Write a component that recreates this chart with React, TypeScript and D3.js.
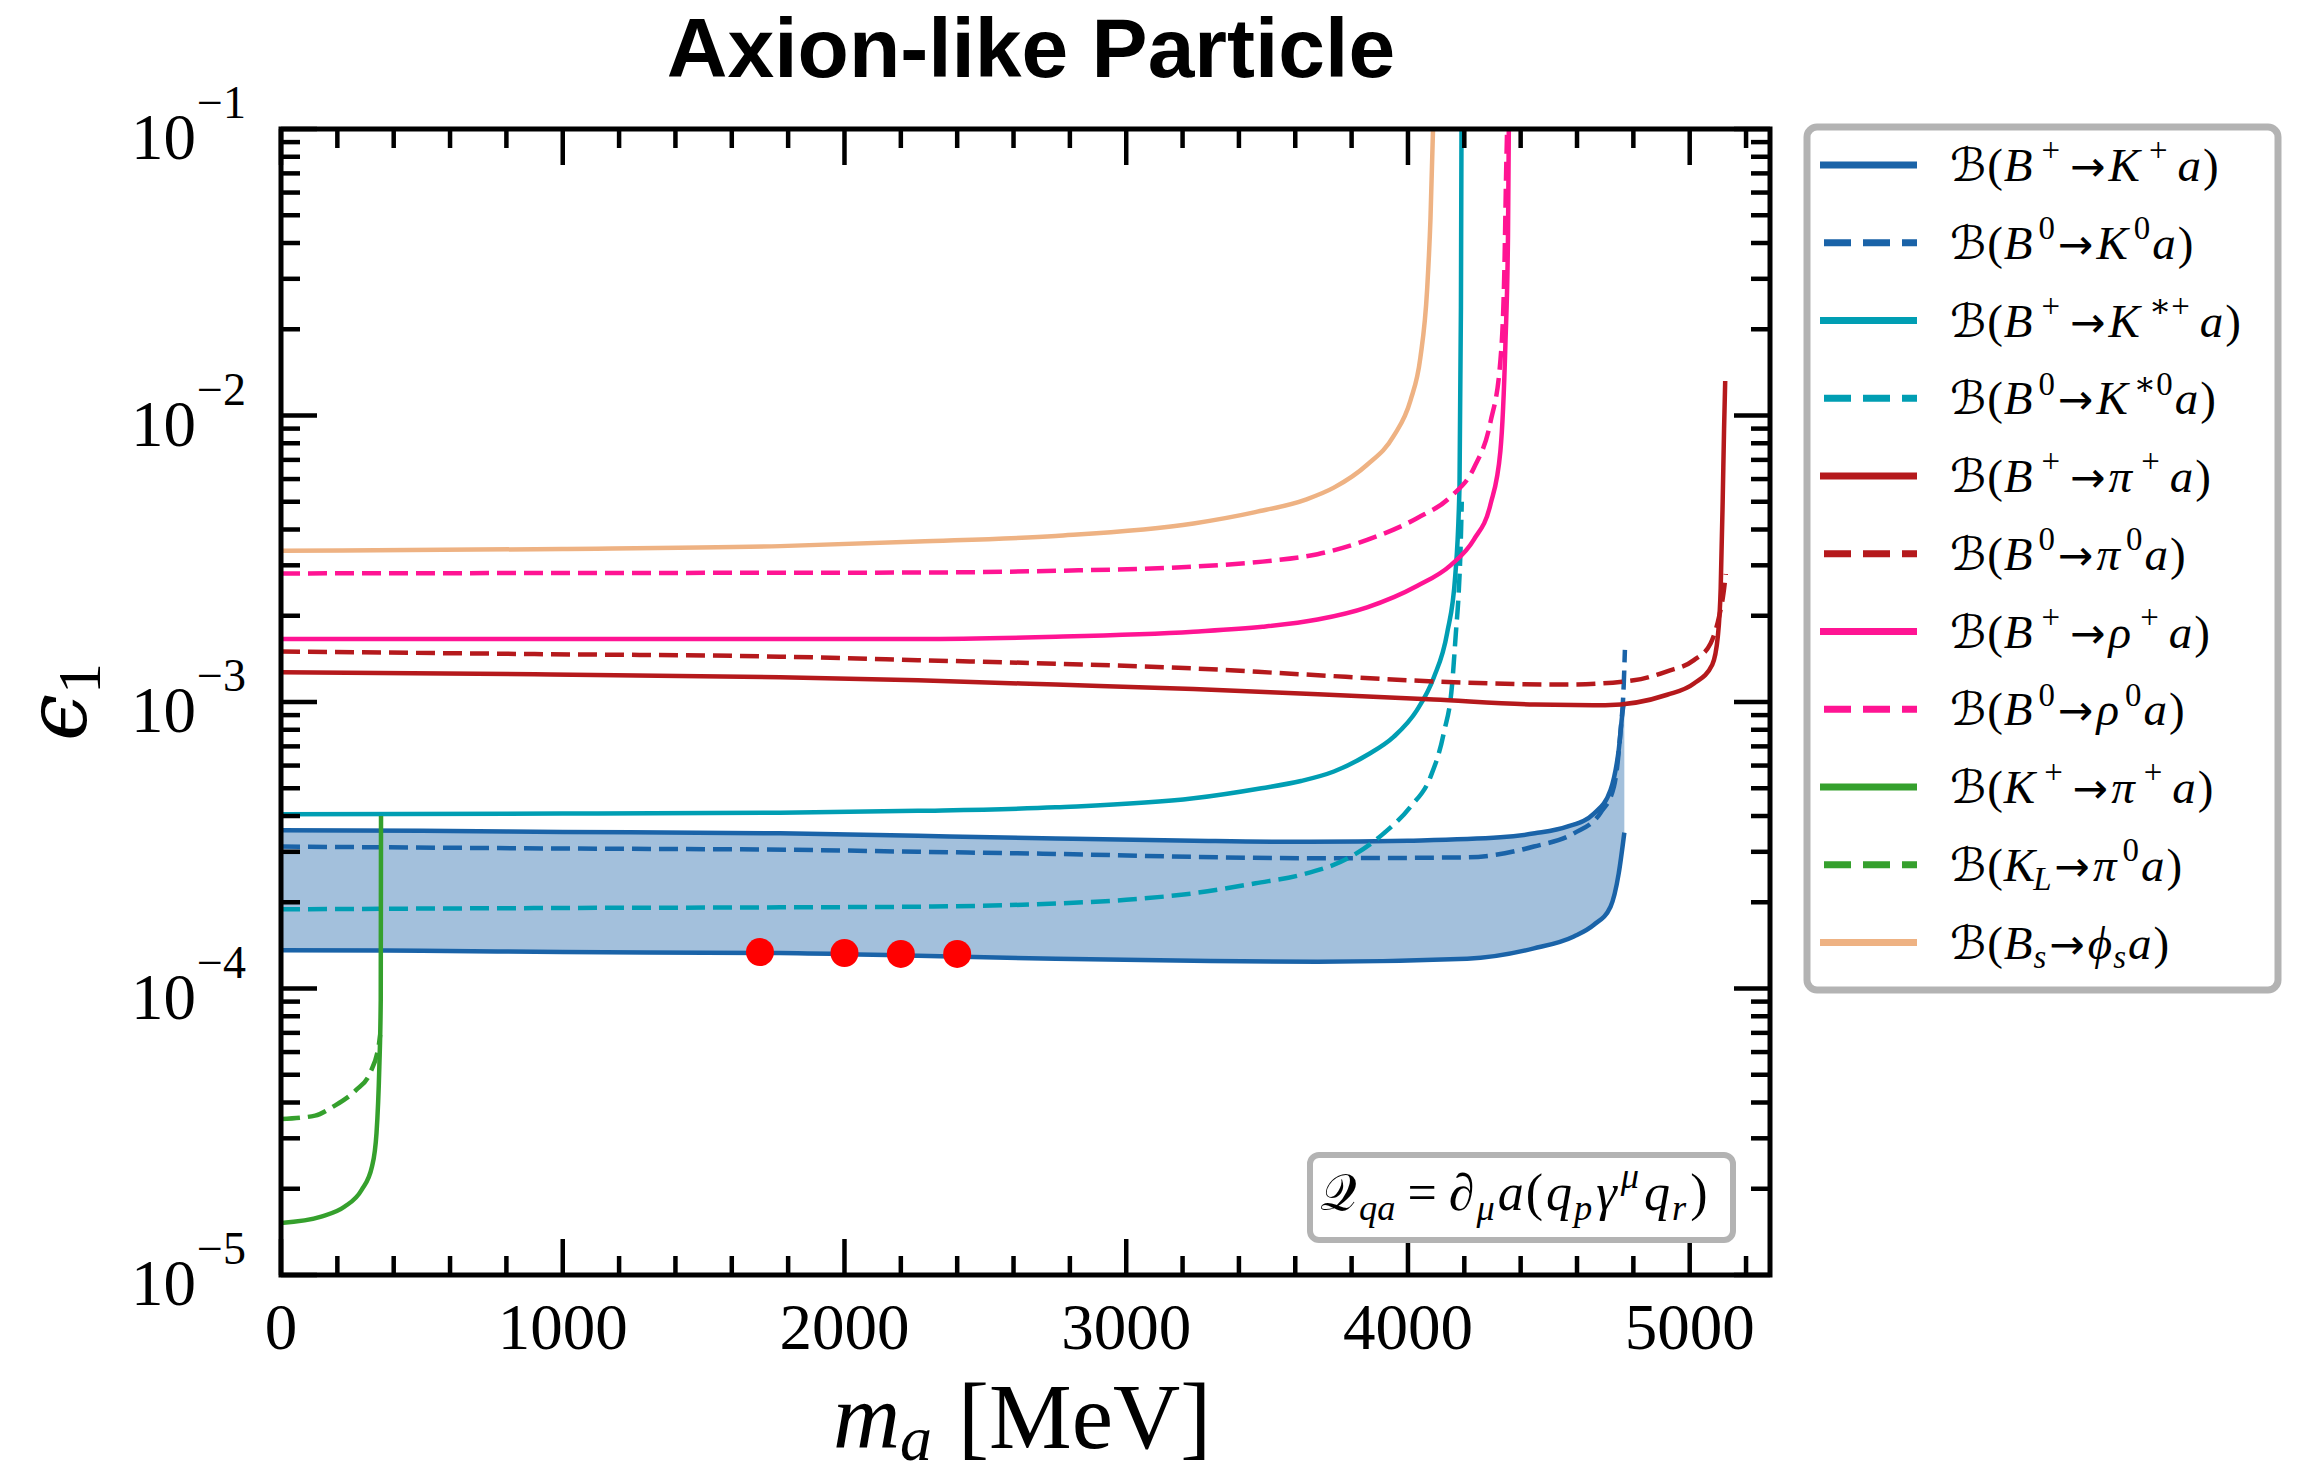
import React from 'react';
import * as d3 from 'd3';

type P = [number, number];

// ---------- data (m_a in MeV, epsilon_1) ----------
const xTicksMajor = [0, 1000, 2000, 3000, 4000, 5000];
const yExponents = [-1, -2, -3, -4, -5];

const bPlusKUpper: P[] = [
  [0, 3.57e-4], [500, 3.55e-4], [1000, 3.52e-4], [1772, 3.48e-4], [2261, 3.41e-4], [2750, 3.34e-4],
  [3239, 3.28e-4], [3650, 3.25e-4], [4000, 3.28e-4], [4328, 3.37e-4], [4450, 3.48e-4], [4565, 3.67e-4],
  [4660, 4.08e-4], [4719, 4.93e-4], [4748, 6.8e-4], [4764, 9.6e-4], [4768, 1.0e-3],
];
const bPlusKLower: P[] = [
  [0, 1.36e-4], [500, 1.355e-4], [1000, 1.34e-4], [1772, 1.33e-4], [2261, 1.30e-4], [2750, 1.27e-4],
  [3239, 1.25e-4], [3679, 1.24e-4], [4210, 1.27e-4], [4447, 1.38e-4], [4589, 1.52e-4], [4660, 1.67e-4],
  [4719, 1.93e-4], [4748, 2.52e-4], [4768, 3.5e-4],
];
const bZeroK: P[] = [
  [0, 3.13e-4], [1000, 3.08e-4], [1797, 3.05e-4], [2261, 3.0e-4], [2750, 2.95e-4], [3239, 2.88e-4],
  [3679, 2.85e-4], [4210, 2.87e-4], [4447, 3.13e-4], [4589, 3.48e-4], [4683, 4.1e-4], [4731, 5.06e-4],
  [4754, 7.8e-4], [4766, 1.16e-3], [4770, 1.52e-3],
];
const bPlusKStar: P[] = [
  [0, 4.06e-4], [1000, 4.08e-4], [1772, 4.11e-4], [2261, 4.17e-4], [2750, 4.29e-4], [3239, 4.61e-4],
  [3480, 5.0e-4], [3620, 5.3e-4], [3737, 5.72e-4], [3855, 6.53e-4], [3950, 7.57e-4], [4032, 9.37e-4],
  [4092, 1.22e-3], [4139, 1.74e-3], [4168, 2.77e-3], [4183, 5.68e-3], [4188, 2.38e-2], [4190, 1e-1],
];
const bZeroKStar: P[] = [
  [0, 1.89e-4], [1000, 1.91e-4], [1772, 1.92e-4], [2261, 1.93e-4], [2750, 1.98e-4], [3000, 2.04e-4],
  [3239, 2.15e-4], [3459, 2.33e-4], [3618, 2.49e-4], [3796, 2.88e-4], [3914, 3.48e-4], [4009, 4.31e-4],
  [4080, 5.48e-4], [4127, 7.78e-4], [4157, 1.16e-3], [4170, 1.74e-3], [4180, 2.4e-3], [4187, 3.5e-3],
  [4191, 5e-3],
];
const bPlusPi: P[] = [
  [0, 1.27e-3], [900, 1.25e-3], [1772, 1.22e-3], [2261, 1.19e-3], [2750, 1.15e-3], [3239, 1.11e-3],
  [3618, 1.07e-3], [4092, 1.02e-3], [4450, 9.8e-4], [4700, 9.75e-4], [4920, 1.06e-3], [5015, 1.16e-3],
  [5080, 1.35e-3], [5100, 1.7e-3], [5110, 2.5e-3], [5117, 5e-3], [5122, 9e-3], [5126, 1.32e-2],
];
const bZeroPi: P[] = [
  [0, 1.50e-3], [900, 1.47e-3], [1772, 1.44e-3], [2261, 1.40e-3], [2750, 1.36e-3], [3239, 1.31e-3],
  [3618, 1.25e-3], [4092, 1.18e-3], [4565, 1.15e-3], [4801, 1.19e-3], [4920, 1.28e-3], [5015, 1.4e-3],
  [5074, 1.6e-3], [5105, 2.0e-3], [5120, 2.4e-3], [5128, 2.8e-3],
];
const bPlusRho: P[] = [
  [0, 1.66e-3], [1000, 1.66e-3], [2261, 1.66e-3], [2750, 1.69e-3], [3239, 1.76e-3], [3484, 1.83e-3],
  [3679, 1.94e-3], [3855, 2.14e-3], [4032, 2.54e-3], [4151, 3.0e-3], [4234, 3.69e-3], [4293, 4.9e-3],
  [4328, 7.5e-3], [4346, 1.79e-2], [4355, 4.2e-2], [4358, 1e-1],
];
const bZeroRho: P[] = [
  [0, 2.81e-3], [1000, 2.82e-3], [2261, 2.83e-3], [2750, 2.87e-3], [3239, 2.97e-3], [3484, 3.09e-3],
  [3679, 3.28e-3], [3855, 3.68e-3], [4032, 4.38e-3], [4151, 5.2e-3], [4234, 6.56e-3], [4293, 9.5e-3],
  [4328, 1.55e-2], [4342, 3.17e-2], [4349, 7.5e-2], [4352, 1e-1],
];
const kPlusPi: P[] = [
  [0, 1.52e-5], [143, 1.6e-5], [225, 1.73e-5], [286, 1.98e-5], [323, 2.39e-5], [339, 3.13e-5],
  [349, 5.33e-5], [354, 9.1e-5], [355, 4.0e-4],
];
const kLPi: P[] = [
  [0, 3.5e-5], [121, 3.6e-5], [185, 3.87e-5], [266, 4.42e-5], [316, 5.07e-5], [348, 6.44e-5], [352, 6.9e-5],
];
const bsPhi: P[] = [
  [0, 3.37e-3], [1000, 3.42e-3], [1772, 3.50e-3], [2261, 3.63e-3], [2750, 3.8e-3], [3239, 4.2e-3],
  [3458, 4.6e-3], [3640, 5.1e-3], [3737, 5.6e-3], [3855, 6.73e-3], [3950, 8.5e-3], [4009, 1.13e-2],
  [4044, 1.59e-2], [4068, 2.75e-2], [4080, 4.89e-2], [4089, 1e-1],
];
const benchmarkPoints: P[] = [[1700, 1.34e-4], [2000, 1.33e-4], [2200, 1.32e-4], [2400, 1.32e-4]];

// ---------- styling ----------
const C_BLUE = '#1a63a8';
const C_CYAN = '#009eb3';
const C_RED = '#b5191c';
const C_PINK = '#ff1493';
const C_GREEN = '#35a02d';
const C_ORANGE = '#eeb283';
const C_FILL = '#a3c0dc';
const C_FRAME = '#b3b3b3';

type Seg = { t: string; k: 'i' | 'r' | 's' | 'a' | 'sup' | 'sub' | 'supi' | 'subi'; dx?: number };

const series = [
  { data: bPlusKUpper, color: C_BLUE, dash: false },
  { data: bPlusKLower, color: C_BLUE, dash: false },
  { data: bZeroK, color: C_BLUE, dash: true },
  { data: bPlusKStar, color: C_CYAN, dash: false },
  { data: bZeroKStar, color: C_CYAN, dash: true },
  { data: bPlusPi, color: C_RED, dash: false },
  { data: bZeroPi, color: C_RED, dash: true },
  { data: bPlusRho, color: C_PINK, dash: false },
  { data: bZeroRho, color: C_PINK, dash: true },
  { data: kPlusPi, color: C_GREEN, dash: false },
  { data: kLPi, color: C_GREEN, dash: true },
  { data: bsPhi, color: C_ORANGE, dash: false },
];

const B: Seg = { t: 'ℬ', k: 's' };
const L: Seg = { t: '(', k: 'r', dx: 1 };
const R: Seg = { t: ')', k: 'r', dx: 2 };
const A: Seg = { t: 'a', k: 'i', dx: 2 };
const plusRow = (first: string, second: string): Seg[] => [
  B, L, { t: first, k: 'i', dx: 1 }, { t: '+', k: 'sup', dx: 9 }, { t: '→', k: 'a', dx: 10 },
  { t: second, k: 'i', dx: 3 }, { t: '+', k: 'sup', dx: 9 }, { t: 'a', k: 'i', dx: 10 }, R,
];
const zeroRow = (first: string, second: string, secondSup = '0'): Seg[] => [
  B, L, { t: first, k: 'i', dx: 1 }, { t: '0', k: 'sup', dx: 6 }, { t: '→', k: 'a', dx: 3 },
  { t: second, k: 'i', dx: 3 }, { t: secondSup, k: 'sup', dx: 6 }, A, R,
];
const legendItems: { color: string; dash: boolean; segs: Seg[] }[] = [
  { color: C_BLUE, dash: false, segs: plusRow('B', 'K') },
  { color: C_BLUE, dash: true, segs: zeroRow('B', 'K') },
  { color: C_CYAN, dash: false, segs: [B, L, { t: 'B', k: 'i', dx: 1 }, { t: '+', k: 'sup', dx: 9 }, { t: '→', k: 'a', dx: 10 }, { t: 'K', k: 'i', dx: 3 }, { t: '∗+', k: 'sup', dx: 9 }, { t: 'a', k: 'i', dx: 10 }, R] },
  { color: C_CYAN, dash: true, segs: zeroRow('B', 'K', '∗0') },
  { color: C_RED, dash: false, segs: plusRow('B', 'π') },
  { color: C_RED, dash: true, segs: zeroRow('B', 'π') },
  { color: C_PINK, dash: false, segs: plusRow('B', 'ρ') },
  { color: C_PINK, dash: true, segs: zeroRow('B', 'ρ') },
  { color: C_GREEN, dash: false, segs: plusRow('K', 'π') },
  { color: C_GREEN, dash: true, segs: [B, L, { t: 'K', k: 'i', dx: 1 }, { t: 'L', k: 'subi', dx: -2 }, { t: '→', k: 'a', dx: 3 }, { t: 'π', k: 'i', dx: 3 }, { t: '0', k: 'sup', dx: 6 }, A, R] },
  { color: C_ORANGE, dash: false, segs: [B, L, { t: 'B', k: 'i', dx: 1 }, { t: 's', k: 'subi', dx: 1 }, { t: '→', k: 'a', dx: 3 }, { t: 'ϕ', k: 'i', dx: 3 }, { t: 's', k: 'subi', dx: 1 }, A, R] },
];

const annotationSegs: Seg[] = [
  { t: '𝒬', k: 's' }, { t: 'qa', k: 'subi', dx: 2 }, { t: '=', k: 'r', dx: 12 }, { t: '∂', k: 'i', dx: 12 },
  { t: 'μ', k: 'subi', dx: 2 }, { t: 'a', k: 'i', dx: 3 }, { t: '(', k: 'r', dx: 2 }, { t: 'q', k: 'i', dx: 3 },
  { t: 'p', k: 'subi', dx: 2 }, { t: 'γ', k: 'i', dx: 4 }, { t: 'μ', k: 'supi', dx: 4 }, { t: 'q', k: 'i', dx: 5 },
  { t: 'r', k: 'subi', dx: 2 }, { t: ')', k: 'r', dx: 4 },
];

// ---------- geometry ----------
const W = 2319, H = 1478;
const PL = 281, PR = 1770, PT = 129, PB = 1275;
const SERIF = "'Liberation Serif', 'DejaVu Serif', serif";

function MathText({ x, y, segs, size }: { x: number; y: number; segs: Seg[]; size: number }) {
  const small = size * 0.7;
  const supShift = size * 0.42;
  const subShift = size * 0.2;
  let cur = 0;
  return (
    <text x={x} y={y} fontFamily={SERIF} fontSize={size} fill="#000">
      {segs.map((s, i) => {
        let target = 0;
        let fs = size;
        if (s.k === 'sup' || s.k === 'supi') { target = -supShift; fs = small; }
        if (s.k === 'sub' || s.k === 'subi') { target = subShift; fs = small; }
        const dy = target - cur;
        cur = target;
        const italic = s.k === 'i' || s.k === 'supi' || s.k === 'subi';
        let fam = SERIF;
        if (s.k === 's') fam = "'DejaVu Sans', 'DejaVu Serif', serif";
        if (s.k === 'a') fam = "'DejaVu Sans', sans-serif";
        if (s.k === 's') fs = size * 0.98;
        if (s.k === 'a') fs = size * 0.9;
        return (
          <tspan key={i} dy={dy} dx={s.dx || 0} fontSize={fs}
            fontStyle={italic ? 'italic' : 'normal'} fontFamily={fam}>{s.t}</tspan>
        );
      })}
    </text>
  );
}

export default function App() {
  const x = d3.scaleLinear().domain([0, 5285]).range([PL, PR]);
  const y = d3.scaleLog().domain([1e-5, 1e-1]).range([PB, PT]);
  const line = d3.line<P>().x(d => x(d[0])).y(d => y(d[1])).curve(d3.curveMonotoneX);

  const up = line(bPlusKUpper) as string;
  const lo = line(bPlusKLower.slice().reverse()) as string;
  const fillPath = up + 'L' + lo.substring(1) + 'Z';

  const xMinor = d3.range(0, 5285, 200).filter(v => v % 1000 !== 0);
  const yMinor: number[] = [];
  for (let e = -5; e < -1; e++) for (let m = 2; m <= 9; m++) yMinor.push(m * Math.pow(10, e));
  const yMajor = yExponents.map(e => Math.pow(10, e));

  const tickW = 4.5, majL = 36, minL = 19;

  const legX = 1807, legY = 127, legW = 471, legH = 863;
  const legRow0 = 165, legStep = 77.75;

  return (
    <svg width={W} height={H} style={{ position: 'absolute', left: 0, top: 0, background: '#fff' }}>
      <rect x={0} y={0} width={W} height={H} fill="#fff" />
      <defs>
        <clipPath id="plotClip"><rect x={PL} y={PT} width={PR - PL} height={PB - PT} /></clipPath>
      </defs>

      {/* title */}
      <text x={1031} y={77} textAnchor="middle" fontFamily="'Liberation Sans', Arial, sans-serif"
        fontWeight="bold" fontSize={84}>Axion-like Particle</text>

      <g clipPath="url(#plotClip)">
        <path d={fillPath} fill={C_FILL} stroke="none" />
        {series.map((s, i) => (
          <path key={i} d={line(s.data) as string} fill="none" stroke={s.color} strokeWidth={4.5}
            strokeDasharray={s.dash ? '19 8' : undefined} strokeLinejoin="round" />
        ))}
        {benchmarkPoints.map((p, i) => (
          <circle key={i} cx={x(p[0])} cy={y(p[1])} r={14} fill="#ff0000" />
        ))}
      </g>

      {/* ticks */}
      <g stroke="#000" strokeWidth={tickW}>
        {xTicksMajor.map(v => (
          <g key={'xm' + v}>
            <line x1={x(v)} x2={x(v)} y1={PB} y2={PB - majL} />
            <line x1={x(v)} x2={x(v)} y1={PT} y2={PT + majL} />
          </g>
        ))}
        {xMinor.map(v => (
          <g key={'xn' + v}>
            <line x1={x(v)} x2={x(v)} y1={PB} y2={PB - minL} />
            <line x1={x(v)} x2={x(v)} y1={PT} y2={PT + minL} />
          </g>
        ))}
        {yMajor.map(v => (
          <g key={'ym' + v}>
            <line x1={PL} x2={PL + majL} y1={y(v)} y2={y(v)} />
            <line x1={PR} x2={PR - majL} y1={y(v)} y2={y(v)} />
          </g>
        ))}
        {yMinor.map(v => (
          <g key={'yn' + v}>
            <line x1={PL} x2={PL + minL} y1={y(v)} y2={y(v)} />
            <line x1={PR} x2={PR - minL} y1={y(v)} y2={y(v)} />
          </g>
        ))}
      </g>
      <rect x={PL} y={PT} width={PR - PL} height={PB - PT} fill="none" stroke="#000" strokeWidth={5} />

      {/* tick labels */}
      {xTicksMajor.map(v => (
        <text key={'xl' + v} x={x(v)} y={1349} textAnchor="middle" fontFamily={SERIF} fontSize={65}>{v}</text>
      ))}
      {yExponents.map(e => {
        const yy = y(Math.pow(10, e));
        return (
          <g key={'yl' + e}>
            <text x={196} y={yy + 30} textAnchor="end" fontFamily={SERIF} fontSize={65}>10</text>
            <text x={197} y={yy - 11} fontFamily={SERIF} fontSize={46}>{'−' + Math.abs(e)}</text>
          </g>
        );
      })}

      {/* axis labels */}
      <text x={1022} y={1448} textAnchor="middle" fontFamily={SERIF} fontSize={93}>
        <tspan fontStyle="italic">m</tspan>
        <tspan fontStyle="italic" fontSize={64} dy={12}>a</tspan>
        <tspan dy={-12} dx={26}>[MeV]</tspan>
      </text>
      <text transform={`translate(86,702) rotate(-90)`} textAnchor="middle" fontFamily={SERIF} fontSize={90}>
        <tspan fontStyle="italic" fontFamily="'DejaVu Serif', serif" fontSize={84}>ϵ</tspan>
        <tspan fontSize={62} dy={14}>1</tspan>
      </text>

      {/* annotation box */}
      <rect x={1310} y={1155} width={423} height={85} rx={9} fill="#fff" stroke={C_FRAME} strokeWidth={6} />
      <MathText x={1320} y={1210} segs={annotationSegs} size={52} />

      {/* legend */}
      <rect x={legX} y={legY} width={legW} height={legH} rx={10} fill="#fff" stroke={C_FRAME} strokeWidth={7} />
      {legendItems.map((it, i) => {
        const ly = legRow0 + i * legStep;
        return (
          <g key={'lg' + i}>
            <line x1={1820} x2={1917} y1={ly} y2={ly} stroke={it.color} strokeWidth={7}
              strokeDasharray={it.dash ? '27 12' : undefined} strokeDashoffset={it.dash ? -4 : 0} />
            <MathText x={1950} y={ly + 16} segs={it.segs} size={47} />
          </g>
        );
      })}
    </svg>
  );
}
